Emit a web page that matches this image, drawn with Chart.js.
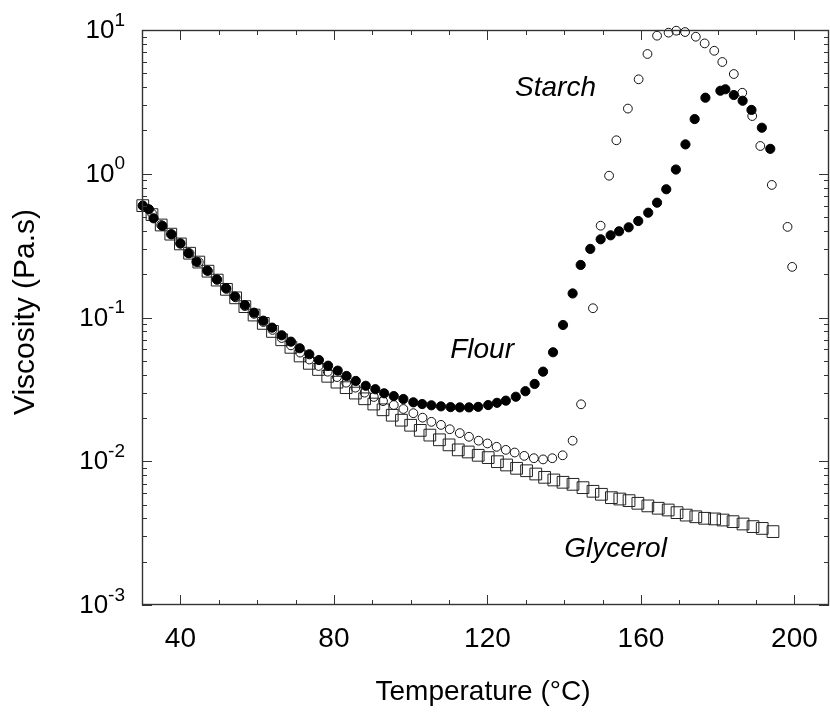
<!doctype html>
<html lang="en">

<head>
    <meta charset="utf-8" />
    <title>Viscosity vs temperature</title>
    <script src="https://cdn.jsdelivr.net/npm/chart.js"></script>
    <style>
        body { margin: 0; background: #fff; }
    </style>
</head>

<body>
    <canvas id="chartViscosity" width="830" height="716"></canvas>
    <script>
        // flour (filled circles)
        const flourT = [30.2, 31.8, 33.0, 35.3, 37.7, 40.0, 42.1, 44.2, 47.0, 49.5, 51.9, 54.2, 56.8, 59.2, 61.6, 63.9,
            66.4, 68.8, 71.1, 73.6, 76.1, 78.5, 81.0, 83.3, 85.7, 88.3, 90.8, 93.1, 95.6, 98.1, 100.7, 103.0, 105.4,
            107.9, 110.4, 112.8, 115.2, 117.6, 120.2, 122.5, 124.8, 127.4, 129.9, 132.3, 134.5, 137.1, 139.7, 142.2,
            144.3, 146.8, 149.5, 152.1, 154.3, 156.8, 159.3, 161.9, 164.2, 166.6, 169.1, 171.6, 174.0, 176.8, 180.7,
            182.0, 184.2, 186.5, 188.8, 191.5, 193.7];
        const flourVisc = [0.60, 0.566, 0.49, 0.434, 0.379, 0.328, 0.280, 0.244, 0.212, 0.184, 0.160, 0.140, 0.122,
            0.108, 0.095, 0.085, 0.0752, 0.0679, 0.0611, 0.0555, 0.0506, 0.0462, 0.0427, 0.0392, 0.0362, 0.0335,
            0.0317, 0.0297, 0.0284, 0.0271, 0.0257, 0.0250, 0.0245, 0.0241, 0.0238, 0.0237, 0.0237, 0.0239, 0.0246,
            0.0255, 0.0264, 0.0281, 0.0307, 0.0345, 0.0420, 0.0573, 0.0887, 0.147, 0.232, 0.30, 0.350, 0.373, 0.398,
            0.424, 0.469, 0.536, 0.629, 0.780, 1.07, 1.60, 2.40, 3.38, 3.78, 3.87, 3.53, 3.22, 2.78, 2.09, 1.49];

        // starch (open circles)
        const starchT = [30.2, 32.6, 35.0, 37.5, 40.0, 42.4, 44.8, 47.2, 49.6, 52.0, 54.4, 56.8, 59.2, 61.6, 64.0,
            66.4, 68.8, 71.2, 73.6, 76.0, 78.4, 80.8, 83.2, 85.6, 88.0, 90.4, 92.8, 95.6, 98.1, 100.7, 103.1, 105.4,
            107.9, 110.2, 112.8, 115.2, 117.7, 120.0, 122.4, 124.8, 127.1, 129.6, 132.1, 134.5, 136.9, 139.6, 142.2,
            144.4, 147.5, 149.5, 151.7, 153.6, 156.6, 159.4, 161.7, 164.2, 167.2, 169.2, 171.5, 174.3, 176.6, 179.1,
            181.2, 184.2, 186.4, 189.0, 191.1, 194.1, 198.2, 199.4];
        const starchVisc = [0.60, 0.53, 0.44, 0.38, 0.326, 0.28, 0.243, 0.211, 0.183, 0.158, 0.138, 0.120, 0.106,
            0.093, 0.082, 0.072, 0.064, 0.057, 0.051, 0.046, 0.042, 0.0385, 0.0352, 0.0325, 0.0300, 0.0280, 0.0262,
            0.0246, 0.0231, 0.0216, 0.0201, 0.0188, 0.0179, 0.0167, 0.0157, 0.0148, 0.0139, 0.0133, 0.0126, 0.0120,
            0.0115, 0.0109, 0.0105, 0.0103, 0.0105, 0.0110, 0.0139, 0.0249, 0.116, 0.435, 0.969, 1.71, 2.84, 4.54,
            6.81, 9.13, 9.58, 9.89, 9.68, 8.98, 8.07, 7.17, 5.99, 4.94, 3.66, 2.52, 1.56, 0.836, 0.427, 0.225];

        // glycerol (open squares)
        const glycerolT = [30.2, 32.6, 35.0, 37.5, 40.0, 42.4, 44.8, 47.2, 49.6, 52.0, 54.4, 56.8, 59.2, 61.6, 64.0,
            66.4, 68.8, 71.2, 73.6, 76.0, 78.4, 80.8, 83.2, 85.6, 88.0, 90.4, 92.8, 95.2, 97.6, 100.0, 102.5, 105.0,
            107.5, 110.0, 112.4, 115.0, 117.6, 120.2, 122.6, 125.0, 127.6, 130.2, 132.6, 134.9, 137.3, 139.7, 142.3,
            144.9, 147.5, 149.7, 152.3, 154.5, 156.9, 159.2, 161.8, 164.5, 167.1, 169.4, 171.8, 174.3, 176.6, 179.2,
            181.4, 184.0, 186.6, 189.2, 191.6, 194.4];
        const glycerolVisc = [0.60, 0.52, 0.44, 0.38, 0.325, 0.28, 0.243, 0.21, 0.182, 0.157, 0.137, 0.119, 0.104,
            0.091, 0.080, 0.070, 0.062, 0.054, 0.048, 0.0435, 0.039, 0.0355, 0.0325, 0.0298, 0.0272, 0.025, 0.0228,
            0.0209, 0.0193, 0.0178, 0.0164, 0.0152, 0.0141, 0.0130, 0.0120, 0.0116, 0.0110, 0.0106, 0.00993, 0.00942,
            0.00893, 0.00859, 0.00815, 0.00773, 0.00741, 0.00714, 0.00691, 0.00655, 0.00618, 0.00589, 0.00558,
            0.00546, 0.00532, 0.00510, 0.00489, 0.00471, 0.00458, 0.00439, 0.00422, 0.00411, 0.00401, 0.00397,
            0.00390, 0.00380, 0.00366, 0.00351, 0.00341, 0.00324];

        const xTicks = [40, 80, 120, 160, 200];
        const xMinorTicks = [30, 50, 60, 70, 90, 100, 110, 130, 140, 150, 170, 180, 190];
        const yTicks = [10, 1, 0.1, 0.01, 0.001];
        const yTickExps = ['1', '0', '-1', '-2', '-3'];
        const labelTexts = ['Starch', 'Flour', 'Glycerol'];
        const labelT = [127.2, 110.3, 140.0];
        const labelVisc = [3.47, 0.0523, 0.00216];

        const FONT = 'Arial, "Liberation Sans", sans-serif';

        function toPoints(xs, ys) {
            let pts = [];
            for (let i = 0; i < xs.length; i++) {
                pts.push({ x: xs[i], y: ys[i] });
            }
            return pts;
        }

        // frame, inward ticks, tick labels and annotations
        const axesPlugin = {
            id: 'axesPlugin',
            afterDraw(chart) {
                const ctx = chart.ctx;
                const a = chart.chartArea;
                const xs = chart.scales.x;
                const ys = chart.scales.y;
                ctx.save();
                ctx.strokeStyle = '#333';
                ctx.lineWidth = 1.4;
                ctx.strokeRect(a.left + 0.5, a.top + 0.5, a.right - a.left - 1, a.bottom - a.top - 1);

                ctx.lineWidth = 1;
                ctx.beginPath();
                // x ticks, bottom and top
                for (let v of xTicks) {
                    const px = Math.round(xs.getPixelForValue(v)) + 0.5;
                    ctx.moveTo(px, a.bottom); ctx.lineTo(px, a.bottom - 10);
                    ctx.moveTo(px, a.top); ctx.lineTo(px, a.top + 10);
                }
                for (let v of xMinorTicks) {
                    const px = Math.round(xs.getPixelForValue(v)) + 0.5;
                    ctx.moveTo(px, a.bottom); ctx.lineTo(px, a.bottom - 5);
                    ctx.moveTo(px, a.top); ctx.lineTo(px, a.top + 5);
                }
                // y ticks, left and right
                for (let d = -3; d <= 1; d++) {
                    for (let m = 1; m <= 9; m++) {
                        if (d === 1 && m > 1) break;
                        const py = Math.round(ys.getPixelForValue(m * Math.pow(10, d))) + 0.5;
                        const len = m === 1 ? 10 : 5;
                        ctx.moveTo(a.left, py); ctx.lineTo(a.left + len, py);
                        ctx.moveTo(a.right, py); ctx.lineTo(a.right - len, py);
                    }
                }
                ctx.stroke();

                ctx.fillStyle = '#000';
                // x tick labels
                ctx.font = '28px ' + FONT;
                ctx.textAlign = 'center';
                ctx.textBaseline = 'alphabetic';
                for (let v of xTicks) {
                    ctx.fillText(String(v), xs.getPixelForValue(v), 647);
                }
                // y tick labels as 10^n
                for (let i = 0; i < yTicks.length; i++) {
                    const py = ys.getPixelForValue(yTicks[i]);
                    ctx.font = '19px ' + FONT;
                    ctx.textAlign = 'right';
                    const expW = ctx.measureText(yTickExps[i]).width;
                    ctx.fillText(yTickExps[i], 125, py - 4.5);
                    ctx.font = '26px ' + FONT;
                    ctx.fillText('10', 125 - expW, py + 8);
                }
                // axis titles
                ctx.font = '28px ' + FONT;
                ctx.textAlign = 'center';
                ctx.fillText('Temperature (°C)', 483, 700);
                ctx.save();
                ctx.translate(34, 312);
                ctx.rotate(-Math.PI / 2);
                ctx.font = '30px ' + FONT;
                ctx.fillText('Viscosity (Pa.s)', 0, 0);
                ctx.restore();
                // series labels
                ctx.font = 'italic 28px ' + FONT;
                ctx.textAlign = 'left';
                for (let i = 0; i < labelTexts.length; i++) {
                    ctx.fillText(labelTexts[i], xs.getPixelForValue(labelT[i]), ys.getPixelForValue(labelVisc[i]));
                }
                ctx.restore();
            }
        };

        function buildChart() {
            const ctx = document.getElementById('chartViscosity');
            const myChart = new Chart(ctx, {
                type: 'scatter',
                data: {
                    datasets: [
                        {
                            label: 'Flour',
                            data: toPoints(flourT, flourVisc),
                            pointStyle: 'circle',
                            pointRadius: 4.6,
                            backgroundColor: '#000',
                            borderColor: '#000',
                            borderWidth: 1,
                            clip: false
                        },
                        {
                            label: 'Starch',
                            data: toPoints(starchT, starchVisc),
                            pointStyle: 'circle',
                            pointRadius: 4.4,
                            backgroundColor: 'rgba(255,255,255,0)',
                            borderColor: '#111',
                            borderWidth: 1,
                            clip: false
                        },
                        {
                            label: 'Glycerol',
                            data: toPoints(glycerolT, glycerolVisc),
                            pointStyle: 'rect',
                            pointRadius: 8.3,
                            backgroundColor: 'rgba(255,255,255,0)',
                            borderColor: '#222',
                            borderWidth: 1,
                            clip: false
                        }
                    ]
                },
                options: {
                    responsive: false,
                    animation: false,
                    devicePixelRatio: 1,
                    layout: { autoPadding: false, padding: { top: 30, right: 1, left: 0, bottom: 0 } },
                    plugins: {
                        legend: { display: false },
                        tooltip: { enabled: false }
                    },
                    scales: {
                        x: {
                            type: 'linear',
                            min: 30,
                            max: 209,
                            grid: { display: false },
                            border: { display: false },
                            ticks: { display: false },
                            afterFit: (scale) => { scale.height = 111; }
                        },
                        y: {
                            type: 'logarithmic',
                            min: 0.001,
                            max: 10,
                            grid: { display: false },
                            border: { display: false },
                            ticks: { display: false },
                            afterFit: (scale) => { scale.width = 142; }
                        }
                    }
                },
                plugins: [axesPlugin]
            });
        }

        buildChart();
    </script>
</body>

</html>
